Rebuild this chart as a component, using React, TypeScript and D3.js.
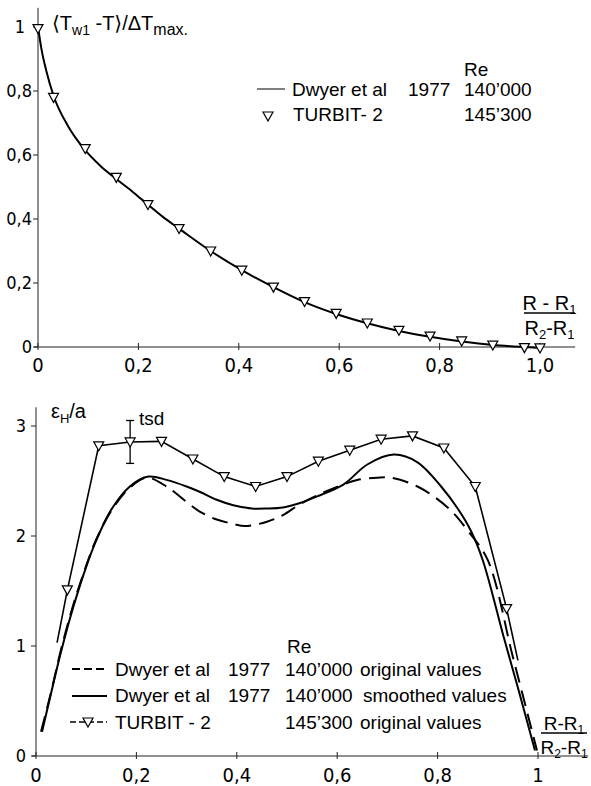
import * as d3 from 'd3';

// top panel: wall temperature profile
const topTurbitX = [0, 0.031, 0.094, 0.156, 0.219, 0.281, 0.344, 0.406, 0.469, 0.531, 0.594, 0.656, 0.719, 0.781, 0.844, 0.906, 0.969, 1.0];
const topTurbitY = [0.995, 0.78, 0.62, 0.53, 0.445, 0.37, 0.30, 0.24, 0.187, 0.142, 0.105, 0.075, 0.052, 0.034, 0.019, 0.006, -0.002, -0.003];
const topDwyerX = [0, 0.007, 0.017, 0.031, 0.06, 0.094, 0.125, 0.156, 0.19, 0.219, 0.25, 0.281, 0.344, 0.406, 0.469, 0.531, 0.594, 0.656, 0.719, 0.781, 0.844, 0.906, 0.969, 1.0];
const topDwyerY = [1.0, 0.93, 0.86, 0.785, 0.69, 0.615, 0.565, 0.525, 0.483, 0.445, 0.405, 0.37, 0.30, 0.24, 0.187, 0.14, 0.103, 0.074, 0.05, 0.032, 0.017, 0.006, 0.0, -0.003];
const topYTicks = [0, 0.2, 0.4, 0.6, 0.8, 1];
const topYLabels = ['0', '0,2', '0,4', '0,6', '0,8', '1'];
const topXTicks = [0, 0.2, 0.4, 0.6, 0.8, 1];
const topXLabels = ['0', '0,2', '0,4', '0,6', '0,8', '1,0'];

// bottom panel: eddy diffusivity
const botTurbitX = [0.0625, 0.125, 0.1875, 0.25, 0.3125, 0.375, 0.4375, 0.5, 0.5625, 0.625, 0.6875, 0.75, 0.8125, 0.875, 0.9375];
const botTurbitY = [1.51, 2.82, 2.855, 2.86, 2.70, 2.54, 2.45, 2.54, 2.68, 2.78, 2.88, 2.91, 2.80, 2.45, 1.34];
const botTurbitTailX = [0.042, 0.96];
const botTurbitTailY = [1.03, 0.87];
const smoothX = [0.012, 0.03, 0.05, 0.074, 0.1, 0.12, 0.15, 0.187, 0.224, 0.26, 0.3, 0.327, 0.36, 0.393, 0.43, 0.46, 0.492, 0.526, 0.56, 0.613, 0.66, 0.713, 0.76, 0.807, 0.84, 0.866, 0.89, 0.93, 0.96, 0.994];
const smoothY = [0.22, 0.57, 0.95, 1.35, 1.72, 1.96, 2.24, 2.45, 2.54, 2.51, 2.45, 2.40, 2.33, 2.28, 2.25, 2.25, 2.26, 2.30, 2.36, 2.47, 2.65, 2.74, 2.67, 2.45, 2.25, 2.05, 1.78, 1.11, 0.62, 0.05];
const origX = [0.01, 0.03, 0.05, 0.074, 0.1, 0.12, 0.15, 0.187, 0.22, 0.26, 0.3, 0.327, 0.36, 0.393, 0.416, 0.46, 0.492, 0.526, 0.56, 0.613, 0.64, 0.68, 0.707, 0.76, 0.82, 0.86, 0.9, 0.95, 0.998];
const origY = [0.22, 0.58, 0.97, 1.37, 1.73, 1.97, 2.23, 2.44, 2.53, 2.45, 2.31, 2.22, 2.15, 2.11, 2.09, 2.13, 2.19, 2.29, 2.37, 2.47, 2.51, 2.53, 2.53, 2.45, 2.26, 2.05, 1.78, 0.9, 0.05];
const tsdX = 0.1875;
const tsdRange = [2.66, 3.05];
const botYTicks = [0, 1, 2, 3];
const botYLabels = ['0', '1', '2', '3'];
const botXTicks = [0, 0.2, 0.4, 0.6, 0.8, 1];
const botXLabels = ['0', '0,2', '0,4', '0,6', '0,8', '1'];

const TXT = '"Liberation Sans", "DejaVu Sans", sans-serif';
const NUM = '"Liberation Sans Narrow", "DejaVu Sans Condensed", sans-serif';

const tri = (cx: number, cy: number) => `M${cx - 5},${cy - 4}L${cx + 5},${cy - 4}L${cx},${cy + 5}Z`;

function Fraction({ x, y, w, gap, size }: { x: number; y: number; w: number; gap: string; size: number }) {
  // (R-R1)/(R2-R1), y = fraction bar
  const sub = Math.round(size * 0.65);
  return (
    <g fontFamily={TXT} fontSize={size}>
      <text x={x + w / 2} y={y - 3} textAnchor="middle">
        {`R${gap}-${gap}R`}<tspan fontSize={sub} dy={4}>1</tspan>
      </text>
      <line x1={x} x2={x + w} y1={y} y2={y} stroke="#000" strokeWidth={1.5} />
      <text x={x + w / 2} y={y + size + 2} textAnchor="middle">
        R<tspan fontSize={sub} dy={4}>2</tspan>
        <tspan dy={-4}>-R</tspan>
        <tspan fontSize={sub} dy={4}>1</tspan>
      </text>
    </g>
  );
}

export default function App() {
  const xT = d3.scaleLinear().domain([0, 1]).range([38, 540]);
  const yT = d3.scaleLinear().domain([0, 1]).range([347, 27]);
  const xB = d3.scaleLinear().domain([0, 1]).range([36, 538]);
  const yB = d3.scaleLinear().domain([0, 3]).range([756, 426]);

  const topLine = d3.line<number>().x((_, i) => xT(topDwyerX[i])).y(d => yT(d)).curve(d3.curveMonotoneX);
  const smoothLine = d3.line<number>().x((_, i) => xB(smoothX[i])).y(d => yB(d)).curve(d3.curveCatmullRom.alpha(0.5));
  const origLine = d3.line<number>().x((_, i) => xB(origX[i])).y(d => yB(d)).curve(d3.curveCatmullRom.alpha(0.5));
  const turbitPts: [number, number][] = [
    [botTurbitTailX[0], botTurbitTailY[0]],
    ...botTurbitX.map((x, i) => [x, botTurbitY[i]] as [number, number]),
    [botTurbitTailX[1], botTurbitTailY[1]],
  ];
  const turbitLine = d3.line<[number, number]>().x(d => xB(d[0])).y(d => yB(d[1]));

  return (
    <svg width={591} height={786} style={{ position: 'absolute', left: 0, top: 0, background: '#fff' }}>
      {/* ---------- top panel ---------- */}
      <g stroke="#222" strokeWidth={1}>
        <line x1={xT(0)} x2={xT(0)} y1={yT(1.06)} y2={yT(0)} />
        <line x1={xT(0) - 4} x2={xT(1.07)} y1={yT(0)} y2={yT(0)} />
        {topYTicks.map(t => <line key={t} x1={xT(0) - 5} x2={xT(0)} y1={yT(t)} y2={yT(t)} />)}
        {topXTicks.map(t => <line key={t} x1={xT(t)} x2={xT(t)} y1={yT(0) - 4} y2={yT(0) + 3} />)}
      </g>
      <g fontFamily={NUM} fontSize={18} textAnchor="end">
        {topYTicks.map((t, i) => <text key={t} x={t === 1 ? 25 : 32} y={yT(t)} dy="0.36em">{topYLabels[i]}</text>)}
      </g>
      <g fontFamily={NUM} fontSize={20} textAnchor="middle">
        {topXTicks.map((t, i) => <text key={t} x={xT(t)} y={372}>{topXLabels[i]}</text>)}
      </g>
      <text x={52} y={30} fontFamily={TXT} fontSize={20}>
        ⟨T<tspan fontSize={14} dy={5}>w1</tspan><tspan dy={-5}> -T⟩/ΔT</tspan>
        <tspan fontSize={16} dy={5}>max.</tspan>
      </text>
      <Fraction x={524} y={313} w={51} gap=" " size={20} />

      <path d={topLine(topDwyerY) ?? ''} fill="none" stroke="#000" strokeWidth={2} />
      {topTurbitY.map((v, i) => (
        <path key={i} d={tri(xT(topTurbitX[i]), yT(v))} fill="#fff" stroke="#000" strokeWidth={1.2} />
      ))}

      <g fontFamily={TXT} fontSize={19}>
        <text x={464} y={76}>Re</text>
        <line x1={257} x2={285} y1={89} y2={89} stroke="#000" strokeWidth={1} />
        <text x={292} y={96}>Dwyer et al</text>
        <text x={408} y={96}>1977</text>
        <text x={464} y={96}>140’000</text>
        <path d={tri(268, 116)} fill="#fff" stroke="#000" strokeWidth={1.2} />
        <text x={293} y={121}>TURBIT- 2</text>
        <text x={464} y={121}>145’300</text>
      </g>

      {/* ---------- bottom panel ---------- */}
      <g stroke="#222" strokeWidth={1}>
        <line x1={xB(0)} x2={xB(0)} y1={yB(3.17)} y2={yB(0)} />
        <line x1={xB(0) - 4} x2={xB(1.1)} y1={yB(0)} y2={yB(0)} />
        {botYTicks.map(t => <line key={t} x1={xB(0) - 5} x2={xB(0)} y1={yB(t)} y2={yB(t)} />)}
        {botXTicks.map(t => <line key={t} x1={xB(t)} x2={xB(t)} y1={yB(0) - 4} y2={yB(0) + 3} />)}
      </g>
      <g fontFamily={NUM} fontSize={18} textAnchor="end">
        {botYTicks.map((t, i) => <text key={t} x={26} y={yB(t)} dy="0.36em">{botYLabels[i]}</text>)}
      </g>
      <g fontFamily={NUM} fontSize={20} textAnchor="middle">
        {botXTicks.map((t, i) => <text key={t} x={xB(t)} y={782}>{botXLabels[i]}</text>)}
      </g>
      <text x={51} y={418} fontFamily={TXT} fontSize={20}>
        ε<tspan fontSize={13} dy={5}>H</tspan><tspan dy={-5}>/a</tspan>
      </text>
      <Fraction x={541} y={733} w={46} gap="" size={19} />

      <path d={origLine(origY) ?? ''} fill="none" stroke="#000" strokeWidth={2} strokeDasharray="16,8" />
      <path d={smoothLine(smoothY) ?? ''} fill="none" stroke="#000" strokeWidth={2} />
      <path d={turbitLine(turbitPts) ?? ''} fill="none" stroke="#000" strokeWidth={1.6} />
      <g stroke="#000" strokeWidth={1.3}>
        <line x1={xB(tsdX)} x2={xB(tsdX)} y1={yB(tsdRange[0])} y2={yB(tsdRange[1])} />
        <line x1={xB(tsdX) - 4} x2={xB(tsdX) + 4} y1={yB(tsdRange[0])} y2={yB(tsdRange[0])} />
        <line x1={xB(tsdX) - 4} x2={xB(tsdX) + 4} y1={yB(tsdRange[1])} y2={yB(tsdRange[1])} />
      </g>
      <text x={139} y={425} fontFamily={TXT} fontSize={19}>tsd</text>
      {botTurbitY.map((v, i) => (
        <path key={i} d={tri(xB(botTurbitX[i]), yB(v))} fill="#fff" stroke="#000" strokeWidth={1.2} />
      ))}

      <g fontFamily={TXT} fontSize={19}>
        <text x={287} y={653}>Re</text>
        <line x1={72} x2={107} y1={669} y2={669} stroke="#000" strokeWidth={2} strokeDasharray="8,4" />
        <text x={115} y={676}>Dwyer et al</text>
        <text x={228} y={676}>1977</text>
        <text x={285} y={676}>140’000</text>
        <text x={360} y={676}>original values</text>
        <line x1={72} x2={107} y1={696} y2={696} stroke="#000" strokeWidth={2} />
        <text x={115} y={702}>Dwyer et al</text>
        <text x={228} y={702}>1977</text>
        <text x={285} y={702}>140’000</text>
        <text x={363} y={702}>smoothed values</text>
        <line x1={70} x2={107} y1={722} y2={722} stroke="#000" strokeWidth={1.3} strokeDasharray="6,3" />
        <path d={tri(88, 722)} fill="#fff" stroke="#000" strokeWidth={1.2} />
        <text x={115} y={729}>TURBIT - 2</text>
        <text x={285} y={729}>145’300</text>
        <text x={360} y={729}>original values</text>
      </g>
    </svg>
  );
}
